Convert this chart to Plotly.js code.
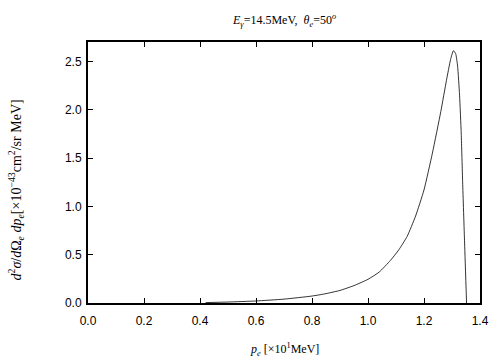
<!DOCTYPE html>
<html><head><meta charset="utf-8">
<script src="https://cdn.plot.ly/plotly-3.0.1.min.js"></script>
<style>body{margin:0;background:#fff}#c{width:504px;height:360px}</style>
</head><body><div id="c"></div>
<script>
const pe = [0.42, 0.50, 0.60, 0.70, 0.80, 0.85, 0.90, 0.95, 1.00, 1.04, 1.08, 1.11, 1.14, 1.17, 1.20, 1.23, 1.26, 1.28, 1.295, 1.305, 1.313, 1.32, 1.327, 1.333, 1.338, 1.345, 1.352];
const xsec = [0.004, 0.010, 0.021, 0.040, 0.072, 0.097, 0.130, 0.180, 0.245, 0.320, 0.440, 0.550, 0.690, 0.900, 1.170, 1.550, 1.980, 2.300, 2.520, 2.610, 2.580, 2.450, 2.150, 1.750, 1.250, 0.620, 0.0];
const xTicks = [0, 0.2, 0.4, 0.6, 0.8, 1.0, 1.2, 1.4];
const xTickText = ["0.0", "0.2", "0.4", "0.6", "0.8", "1.0", "1.2", "1.4"];
const yTicks = [0, 0.5, 1.0, 1.5, 2.0, 2.5];
const yTickText = ["0.0", "0.5", "1.0", "1.5", "2.0", "2.5"];

const serif = "Liberation Serif, Times New Roman, serif";
const sans = "Liberation Sans, Arial, sans-serif";

Plotly.newPlot('c', [{
  x: pe, y: xsec, type: 'scatter', mode: 'lines',
  line: {color: '#000', width: 0.8, shape: 'spline', smoothing: 0.5}, hoverinfo: 'skip'
}], {
  width: 504, height: 360,
  margin: {l: 88, r: 24, t: 42, b: 57},
  paper_bgcolor: '#fff', plot_bgcolor: '#fff',
  showlegend: false,
  xaxis: {
    range: [0, 1.4], tickvals: xTicks, ticktext: xTickText,
    ticks: 'inside', ticklen: 5, tickwidth: 1, tickcolor: '#000',
    showline: true, linecolor: '#000', linewidth: 2, mirror: 'ticks',
    showgrid: false, zeroline: false, ticklabelstandoff: 6,
    tickfont: {family: sans, size: 12, color: '#000'}
  },
  yaxis: {
    range: [0, 2.7], tickvals: yTicks, ticktext: yTickText,
    ticks: 'inside', ticklen: 5, tickwidth: 1, tickcolor: '#000',
    showline: true, linecolor: '#000', linewidth: 2, mirror: 'ticks',
    showgrid: false, zeroline: false, ticklabelstandoff: 2,
    tickfont: {family: sans, size: 12, color: '#000'}
  },
  annotations: [
    {text: '<i>E</i><sub><i>γ</i></sub>=14.5MeV,  <i>θ</i><sub><i>e</i></sub>=50<sup><i>o</i></sup>',
     xref: 'paper', yref: 'paper', x: 0.5, y: 1, yshift: 22, showarrow: false,
     xanchor: 'center', yanchor: 'middle', font: {family: serif, size: 12, color: '#000'}},
    {text: '<i>p</i><sub><i>e</i></sub> [×10<sup>1</sup>MeV]',
     xref: 'paper', yref: 'paper', x: 0.5, y: 0, yshift: -46, showarrow: false,
     xanchor: 'center', yanchor: 'middle', font: {family: serif, size: 12, color: '#000'}},
    {text: '<i>d</i><sup>2</sup><i>σ</i>/<i>d</i>Ω<sub><i>e</i></sub> <i>dp</i><sub><i>e</i></sub>[×10<sup>−43</sup>cm<sup>2</sup>/sr MeV]',
     xref: 'paper', yref: 'paper', x: 0, xshift: -72, y: 0.5, yshift: -18, showarrow: false,
     textangle: -90, xanchor: 'center', yanchor: 'middle', font: {family: serif, size: 14, color: '#000'}}
  ]
}, {displayModeBar: false, staticPlot: true});
</script></body></html>
